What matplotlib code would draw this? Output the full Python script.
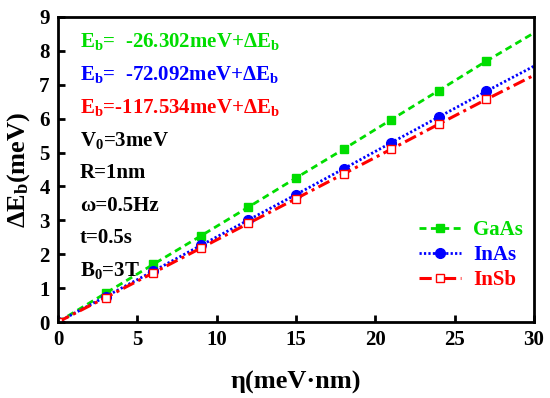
import numpy as np
import matplotlib
matplotlib.use("Agg")
import matplotlib.pyplot as plt

eta = [0, 3, 6, 9, 12, 15, 18, 21, 24, 27, 30]
gaas = [0, 0.85, 1.70, 2.54, 3.39, 4.25, 5.10, 5.97, 6.83, 7.70, 8.53]
inas = [0, 0.75, 1.50, 2.26, 3.01, 3.76, 4.52, 5.29, 6.05, 6.81, 7.55]
insb = [0, 0.72, 1.45, 2.18, 2.91, 3.64, 4.37, 5.10, 5.84, 6.57, 7.28]

green = '#00dd00'
blue = '#0000ff'
red = '#ff0000'

plt.rcParams['font.family'] = ['Liberation Serif', 'DejaVu Serif']
plt.rcParams['font.weight'] = 'bold'
plt.rcParams['mathtext.fontset'] = 'custom'
plt.rcParams['mathtext.rm'] = 'Liberation Serif:bold'
plt.rcParams['mathtext.it'] = 'Liberation Serif:bold'
plt.rcParams['mathtext.bf'] = 'Liberation Serif:bold'

fig = plt.figure(figsize=(5.5, 3.98), dpi=100)
ax = fig.add_axes([58 / 550, 1 - 322 / 398, 476 / 550, 305 / 398])

ax.plot(eta, gaas, color=green, lw=2, dashes=(2.5, 1.6), marker='s', ms=6,
        markevery=slice(0, 10), label='GaAs')
ax.plot(eta, inas, color=blue, lw=2, dashes=(0.8, 0.8), marker='o', ms=7,
        markevery=slice(0, 10), label='InAs')
ax.plot(eta, insb, color=red, lw=2.2, dashes=(4, 1.5, 1, 1.5), marker='s', ms=5.5,
        mfc='white', mew=1, markevery=slice(0, 10), label='InSb')

ax.set_xlim(0, 30)
ax.set_ylim(0, 9)
ax.set_xticks([0, 5, 10, 15, 20, 25, 30])
ax.set_yticks(range(10))
ax.tick_params(direction='in', width=2, length=5, labelsize=15, pad=6)
for sp in ax.spines.values():
    sp.set_linewidth(2)

ax.set_xlabel('η(meV·nm)', fontsize=19, fontweight='bold', labelpad=15)
ax.set_ylabel(r'ΔE$_\mathrm{b}$(meV)', fontsize=19, fontweight='bold', labelpad=5)

texts = [
    (r'E$_\mathrm{b}$=  -26.302meV+ΔE$_\mathrm{b}$', green),
    (r'E$_\mathrm{b}$=  -72.092meV+ΔE$_\mathrm{b}$', blue),
    (r'E$_\mathrm{b}$=-117.534meV+ΔE$_\mathrm{b}$', red),
    (r'V$_\mathrm{0}$=3meV', 'black'),
    ('R=1nm', 'black'),
    ('ω=0.5Hz', 'black'),
    ('t=0.5s', 'black'),
    (r'B$_\mathrm{0}$=3T', 'black'),
]
for i, (s, c) in enumerate(texts):
    ax.text(80 / 550, 1 - (42 + 32.7 * i) / 398, s, color=c, fontsize=15,
            fontweight='bold', transform=fig.transFigure, va='center')

leg = ax.legend(loc='upper left', frameon=False, fontsize=15, handlelength=2.0,
                handletextpad=0.6, borderaxespad=0, borderpad=0, labelspacing=0.25,
                bbox_to_anchor=(419 / 550, 1 - 220 / 398),
                bbox_transform=fig.transFigure)
for t, c in zip(leg.get_texts(), [green, blue, red]):
    t.set_color(c)

fig.savefig('out.png', dpi=100)
